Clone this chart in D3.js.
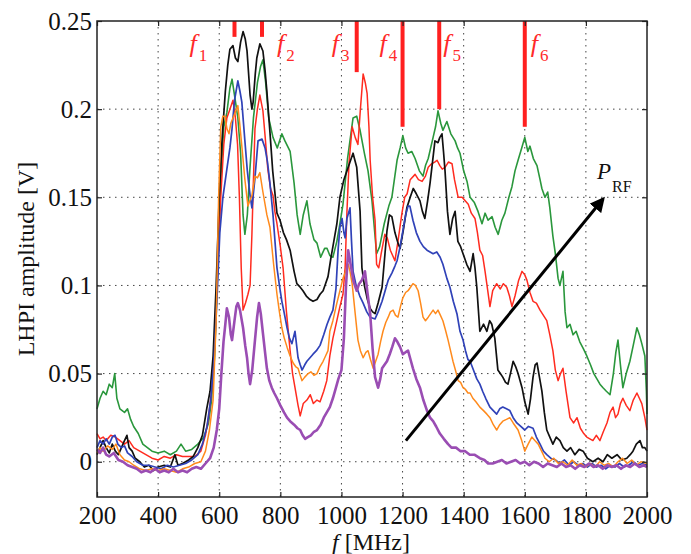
<!DOCTYPE html>
<html>
<head>
<meta charset="utf-8">
<script src="https://cdn.jsdelivr.net/npm/d3@7"></script>
<style>
  html, body { margin: 0; padding: 0; background: #fff; }
  svg { display: block; }
  text { font-family: "Liberation Serif", "DejaVu Serif", serif; }
</style>
</head>
<body>
<svg id="chart" width="691" height="554"></svg>
<script>
// ---------------- DATA ----------------
const xTicks = [200, 400, 600, 800, 1000, 1200, 1400, 1600, 1800, 2000];
const yTicks = [0, 0.05, 0.1, 0.15, 0.2, 0.25];
const yTickLabels = ["0", "0.05", "0.1", "0.15", "0.2", "0.25"];

const markerFreqs = [650, 740, 1050, 1200, 1320, 1600];
const markerEnds  = [0.241, 0.241, 0.221, 0.19, 0.2, 0.19];
const markerNames = ["1", "2", "3", "4", "5", "6"];

const arrowFrom = [1211, 0.012];
const arrowTo = [1856, 0.149];

const green = [[200,0.030],[210,0.036],[220,0.040],[230,0.038],[240,0.044],[250,0.042],[258,0.050],[265,0.036],[275,0.030],[290,0.028],[300,0.030],[310,0.024],[320,0.020],[335,0.016],[350,0.010],[365,0.008],[380,0.006],[400,0.005],[420,0.006],[440,0.004],[460,0.006],[475,0.010],[490,0.006],[510,0.007],[530,0.010],[550,0.014],[565,0.022],[575,0.035],[585,0.060],[595,0.110],[605,0.160],[615,0.190],[625,0.198],[635,0.212],[642,0.217],[650,0.208],[661,0.195],[670,0.175],[678,0.140],[684,0.129],[692,0.140],[700,0.165],[712,0.195],[725,0.215],[735,0.224],[743,0.228],[752,0.215],[762,0.195],[776,0.184],[790,0.178],[805,0.186],[815,0.182],[832,0.176],[845,0.158],[855,0.140],[865,0.129],[875,0.140],[887,0.148],[897,0.135],[910,0.126],[920,0.124],[932,0.116],[945,0.121],[953,0.121],[962,0.117],[972,0.116],[985,0.125],[995,0.135],[1005,0.146],[1020,0.172],[1038,0.195],[1050,0.196],[1061,0.188],[1075,0.175],[1087,0.165],[1100,0.148],[1115,0.118],[1125,0.122],[1140,0.135],[1155,0.145],[1165,0.150],[1182,0.171],[1192,0.178],[1201,0.185],[1210,0.178],[1218,0.175],[1230,0.176],[1241,0.172],[1255,0.165],[1267,0.162],[1275,0.168],[1284,0.172],[1300,0.184],[1308,0.190],[1316,0.199],[1325,0.192],[1332,0.188],[1345,0.193],[1358,0.186],[1372,0.182],[1380,0.178],[1388,0.175],[1400,0.165],[1411,0.159],[1421,0.150],[1435,0.147],[1447,0.142],[1460,0.135],[1470,0.141],[1480,0.137],[1493,0.139],[1503,0.133],[1513,0.129],[1525,0.137],[1535,0.141],[1548,0.150],[1558,0.156],[1568,0.165],[1578,0.171],[1590,0.178],[1600,0.184],[1610,0.176],[1617,0.179],[1628,0.172],[1640,0.168],[1650,0.160],[1656,0.155],[1666,0.150],[1675,0.153],[1682,0.144],[1692,0.128],[1700,0.118],[1709,0.104],[1715,0.100],[1725,0.108],[1732,0.085],[1738,0.076],[1748,0.078],[1758,0.072],[1768,0.074],[1780,0.068],[1792,0.064],[1803,0.060],[1815,0.055],[1826,0.050],[1836,0.047],[1846,0.044],[1856,0.042],[1867,0.040],[1879,0.038],[1890,0.050],[1898,0.062],[1905,0.069],[1913,0.055],[1921,0.042],[1932,0.050],[1944,0.057],[1955,0.066],[1967,0.076],[1975,0.072],[1983,0.067],[1993,0.060],[1998,0.040],[2000,0.027]];

const red = [[200,0.016],[210,0.013],[220,0.014],[230,0.012],[245,0.015],[260,0.014],[275,0.012],[290,0.010],[305,0.012],[320,0.008],[340,0.006],[360,0.004],[380,0.002],[400,0.001],[420,0.003],[440,0.002],[460,0.004],[480,0.003],[500,0.003],[520,0.003],[540,0.006],[555,0.015],[565,0.025],[575,0.040],[585,0.065],[595,0.110],[605,0.150],[615,0.180],[625,0.195],[635,0.200],[645,0.205],[653,0.195],[660,0.180],[666,0.150],[672,0.110],[678,0.086],[686,0.090],[694,0.095],[701,0.100],[707,0.129],[712,0.160],[717,0.189],[725,0.200],[733,0.208],[743,0.199],[750,0.185],[759,0.166],[768,0.155],[776,0.151],[782,0.142],[789,0.135],[800,0.122],[809,0.110],[820,0.085],[832,0.063],[840,0.050],[848,0.042],[858,0.032],[865,0.026],[875,0.033],[887,0.035],[898,0.038],[908,0.033],[920,0.035],[930,0.034],[942,0.040],[952,0.046],[962,0.060],[972,0.070],[985,0.080],[995,0.088],[1005,0.095],[1012,0.110],[1018,0.142],[1025,0.170],[1035,0.190],[1045,0.184],[1054,0.180],[1062,0.200],[1071,0.220],[1078,0.215],[1084,0.209],[1090,0.190],[1094,0.171],[1102,0.150],[1110,0.137],[1115,0.112],[1122,0.110],[1130,0.118],[1142,0.129],[1150,0.127],[1160,0.120],[1175,0.114],[1185,0.125],[1198,0.141],[1207,0.150],[1215,0.152],[1225,0.160],[1241,0.163],[1252,0.160],[1264,0.159],[1275,0.162],[1284,0.167],[1295,0.169],[1305,0.170],[1313,0.171],[1322,0.168],[1330,0.166],[1339,0.167],[1350,0.170],[1362,0.169],[1370,0.160],[1382,0.150],[1395,0.150],[1405,0.148],[1415,0.146],[1425,0.141],[1437,0.138],[1445,0.130],[1453,0.120],[1462,0.117],[1470,0.108],[1478,0.098],[1486,0.088],[1495,0.097],[1508,0.101],[1520,0.098],[1530,0.101],[1541,0.099],[1550,0.094],[1558,0.088],[1568,0.094],[1580,0.103],[1591,0.108],[1600,0.106],[1607,0.103],[1617,0.096],[1627,0.091],[1638,0.090],[1650,0.086],[1661,0.083],[1672,0.080],[1682,0.072],[1692,0.063],[1700,0.052],[1709,0.046],[1717,0.050],[1725,0.053],[1735,0.040],[1748,0.025],[1760,0.022],[1771,0.025],[1782,0.019],[1793,0.016],[1803,0.014],[1813,0.013],[1823,0.012],[1834,0.015],[1846,0.012],[1857,0.017],[1869,0.022],[1879,0.028],[1889,0.031],[1897,0.025],[1905,0.027],[1913,0.033],[1921,0.036],[1932,0.032],[1944,0.029],[1955,0.035],[1967,0.039],[1975,0.036],[1983,0.033],[1993,0.025],[2000,0.018]];

const black = [[200,0.004],[210,0.008],[220,0.012],[230,0.008],[240,0.005],[250,0.010],[260,0.006],[270,0.004],[280,0.008],[290,0.012],[298,0.015],[305,0.008],[315,0.006],[325,0.002],[340,0.000],[355,-0.003],[370,-0.002],[385,-0.005],[400,-0.003],[420,-0.002],[440,-0.003],[455,0.004],[465,-0.002],[480,-0.001],[500,0.001],[515,0.003],[530,0.008],[545,0.015],[559,0.030],[570,0.040],[580,0.060],[590,0.100],[600,0.150],[610,0.185],[620,0.210],[628,0.225],[635,0.234],[645,0.236],[653,0.229],[661,0.227],[670,0.238],[678,0.244],[685,0.240],[691,0.233],[701,0.208],[707,0.200],[711,0.204],[718,0.220],[723,0.229],[733,0.237],[743,0.233],[750,0.222],[756,0.210],[766,0.187],[775,0.165],[789,0.141],[799,0.137],[810,0.130],[820,0.126],[832,0.120],[845,0.108],[854,0.101],[865,0.099],[874,0.097],[885,0.094],[897,0.092],[907,0.091],[920,0.092],[930,0.095],[940,0.097],[948,0.101],[956,0.105],[965,0.115],[975,0.125],[985,0.135],[995,0.150],[1008,0.160],[1018,0.165],[1028,0.170],[1038,0.175],[1050,0.167],[1061,0.142],[1067,0.110],[1075,0.100],[1085,0.092],[1094,0.087],[1102,0.085],[1110,0.084],[1120,0.090],[1133,0.099],[1141,0.115],[1149,0.131],[1157,0.140],[1165,0.139],[1175,0.130],[1185,0.124],[1192,0.121],[1203,0.132],[1214,0.144],[1225,0.150],[1235,0.155],[1245,0.152],[1257,0.148],[1265,0.142],[1273,0.138],[1282,0.148],[1290,0.158],[1298,0.170],[1306,0.182],[1316,0.181],[1322,0.184],[1329,0.186],[1334,0.176],[1339,0.165],[1347,0.142],[1355,0.129],[1364,0.138],[1372,0.142],[1381,0.125],[1390,0.122],[1398,0.118],[1410,0.112],[1421,0.108],[1431,0.118],[1437,0.110],[1443,0.099],[1453,0.074],[1465,0.078],[1476,0.074],[1485,0.080],[1492,0.078],[1502,0.070],[1512,0.052],[1520,0.050],[1528,0.048],[1537,0.045],[1545,0.044],[1553,0.050],[1562,0.057],[1570,0.054],[1578,0.050],[1591,0.042],[1600,0.034],[1611,0.027],[1619,0.036],[1627,0.048],[1634,0.055],[1640,0.056],[1648,0.048],[1656,0.040],[1664,0.028],[1672,0.018],[1682,0.014],[1692,0.010],[1703,0.014],[1715,0.012],[1726,0.008],[1738,0.006],[1750,0.008],[1764,0.004],[1778,0.007],[1791,0.006],[1805,0.002],[1823,0.000],[1840,0.002],[1856,0.000],[1870,0.004],[1885,0.002],[1902,0.004],[1918,0.001],[1934,0.002],[1945,0.004],[1954,0.006],[1965,0.010],[1977,0.012],[1985,0.008],[1993,0.008],[2000,0.006]];

const blue = [[200,0.008],[210,0.012],[220,0.010],[230,0.013],[240,0.010],[250,0.014],[259,0.015],[268,0.010],[280,0.008],[290,0.009],[300,0.005],[315,0.003],[330,0.000],[350,-0.002],[370,-0.002],[390,-0.003],[410,-0.004],[430,-0.002],[450,-0.003],[470,-0.002],[490,-0.001],[510,0.001],[530,0.004],[545,0.010],[560,0.020],[572,0.035],[582,0.055],[592,0.090],[602,0.130],[612,0.150],[625,0.166],[635,0.178],[642,0.189],[650,0.205],[661,0.216],[668,0.210],[674,0.204],[684,0.182],[692,0.165],[701,0.151],[707,0.144],[717,0.161],[727,0.182],[740,0.183],[750,0.178],[758,0.170],[766,0.158],[776,0.140],[789,0.110],[797,0.100],[805,0.091],[812,0.085],[822,0.076],[830,0.070],[838,0.067],[848,0.074],[858,0.059],[865,0.055],[871,0.052],[880,0.055],[887,0.057],[897,0.059],[907,0.061],[918,0.063],[930,0.066],[942,0.072],[953,0.078],[962,0.082],[972,0.086],[982,0.098],[989,0.120],[995,0.133],[1002,0.138],[1008,0.130],[1012,0.127],[1018,0.138],[1028,0.144],[1033,0.125],[1038,0.108],[1048,0.100],[1060,0.094],[1071,0.090],[1083,0.085],[1094,0.082],[1110,0.081],[1120,0.085],[1133,0.091],[1143,0.097],[1153,0.103],[1165,0.107],[1175,0.111],[1182,0.114],[1192,0.122],[1201,0.131],[1210,0.140],[1218,0.145],[1224,0.145],[1234,0.137],[1245,0.130],[1257,0.125],[1268,0.122],[1280,0.120],[1290,0.119],[1300,0.118],[1312,0.119],[1323,0.116],[1332,0.112],[1345,0.104],[1355,0.099],[1366,0.091],[1378,0.084],[1388,0.074],[1398,0.069],[1406,0.063],[1414,0.058],[1421,0.057],[1432,0.052],[1443,0.047],[1453,0.044],[1462,0.040],[1472,0.036],[1486,0.031],[1497,0.029],[1508,0.027],[1518,0.030],[1528,0.031],[1540,0.030],[1551,0.029],[1562,0.025],[1574,0.022],[1587,0.020],[1600,0.018],[1612,0.020],[1627,0.019],[1638,0.014],[1650,0.010],[1661,0.006],[1672,0.004],[1685,0.002],[1700,0.001],[1715,-0.001],[1730,0.001],[1745,-0.002],[1760,0.000],[1775,-0.002],[1790,-0.001],[1805,-0.003],[1820,-0.001],[1835,-0.003],[1850,-0.002],[1865,-0.004],[1880,-0.002],[1895,-0.003],[1910,-0.001],[1925,-0.003],[1940,-0.002],[1955,0.000],[1970,-0.002],[1985,-0.001],[2000,-0.002]];

const orange = [[200,0.005],[210,0.008],[220,0.006],[235,0.009],[250,0.007],[262,0.010],[275,0.004],[290,0.001],[305,0.000],[320,-0.002],[340,-0.004],[360,-0.005],[380,-0.004],[400,-0.005],[420,-0.004],[440,-0.005],[460,-0.006],[480,-0.004],[500,-0.003],[520,-0.001],[540,0.000],[555,0.006],[568,0.018],[580,0.035],[590,0.080],[598,0.150],[605,0.190],[612,0.196],[619,0.196],[625,0.189],[632,0.186],[638,0.192],[645,0.195],[652,0.198],[661,0.202],[667,0.192],[674,0.179],[684,0.160],[694,0.145],[700,0.148],[707,0.151],[717,0.162],[725,0.161],[733,0.164],[743,0.153],[756,0.140],[766,0.133],[778,0.112],[789,0.095],[797,0.085],[805,0.076],[813,0.070],[822,0.065],[832,0.060],[842,0.056],[850,0.054],[858,0.053],[865,0.049],[871,0.046],[880,0.048],[891,0.050],[900,0.051],[910,0.049],[920,0.050],[930,0.054],[940,0.057],[948,0.060],[956,0.063],[962,0.074],[972,0.080],[985,0.090],[995,0.097],[1005,0.104],[1014,0.108],[1022,0.112],[1028,0.108],[1035,0.101],[1045,0.084],[1054,0.069],[1062,0.063],[1071,0.059],[1080,0.062],[1087,0.063],[1095,0.058],[1104,0.053],[1112,0.057],[1120,0.061],[1128,0.068],[1136,0.074],[1145,0.079],[1153,0.082],[1160,0.085],[1169,0.086],[1177,0.083],[1185,0.082],[1193,0.088],[1201,0.093],[1210,0.096],[1218,0.097],[1226,0.099],[1234,0.101],[1242,0.100],[1251,0.097],[1259,0.090],[1267,0.082],[1275,0.080],[1284,0.082],[1292,0.084],[1300,0.086],[1308,0.084],[1316,0.086],[1324,0.083],[1332,0.080],[1340,0.075],[1349,0.069],[1357,0.063],[1365,0.057],[1373,0.052],[1382,0.046],[1390,0.045],[1398,0.042],[1406,0.041],[1414,0.039],[1421,0.039],[1430,0.036],[1440,0.034],[1453,0.031],[1465,0.029],[1476,0.027],[1486,0.025],[1497,0.021],[1508,0.018],[1518,0.021],[1528,0.023],[1540,0.024],[1551,0.025],[1562,0.022],[1570,0.020],[1578,0.018],[1590,0.012],[1600,0.006],[1611,0.010],[1623,0.014],[1633,0.012],[1644,0.010],[1655,0.006],[1666,0.002],[1680,0.000],[1695,0.002],[1710,-0.001],[1725,0.000],[1740,-0.002],[1755,0.001],[1770,-0.002],[1785,-0.001],[1800,-0.003],[1815,-0.001],[1830,-0.003],[1845,0.000],[1860,-0.002],[1875,-0.001],[1890,-0.003],[1905,0.000],[1920,0.002],[1935,-0.001],[1950,0.001],[1965,-0.002],[1980,0.000],[2000,-0.001]];

const purple = [[200,0.007],[210,0.005],[220,0.008],[230,0.004],[240,0.003],[255,0.005],[270,0.001],[285,0.000],[300,-0.002],[315,-0.003],[330,-0.004],[345,-0.006],[360,-0.005],[375,-0.006],[390,-0.004],[405,-0.006],[420,-0.005],[435,-0.006],[450,-0.004],[465,-0.006],[480,-0.005],[495,-0.006],[510,-0.004],[525,-0.003],[540,-0.004],[555,-0.001],[570,0.002],[582,0.008],[592,0.018],[600,0.030],[607,0.050],[614,0.068],[620,0.078],[625,0.087],[632,0.082],[638,0.072],[642,0.069],[650,0.080],[656,0.088],[661,0.090],[668,0.086],[678,0.076],[685,0.066],[691,0.059],[696,0.050],[701,0.044],[708,0.052],[717,0.069],[724,0.082],[730,0.090],[736,0.084],[743,0.073],[750,0.062],[756,0.053],[764,0.046],[772,0.042],[780,0.039],[789,0.036],[800,0.032],[812,0.028],[822,0.025],[832,0.023],[845,0.021],[856,0.019],[865,0.018],[873,0.015],[881,0.013],[890,0.014],[900,0.015],[910,0.017],[920,0.018],[932,0.021],[942,0.025],[952,0.028],[962,0.031],[972,0.036],[982,0.042],[990,0.047],[1000,0.052],[1008,0.070],[1015,0.100],[1022,0.120],[1030,0.112],[1040,0.102],[1050,0.097],[1058,0.101],[1067,0.103],[1077,0.108],[1085,0.096],[1094,0.084],[1102,0.064],[1110,0.048],[1120,0.042],[1127,0.047],[1133,0.053],[1141,0.055],[1149,0.057],[1158,0.061],[1166,0.065],[1175,0.070],[1183,0.068],[1192,0.065],[1201,0.061],[1209,0.062],[1218,0.063],[1226,0.058],[1234,0.053],[1245,0.047],[1257,0.042],[1268,0.035],[1280,0.029],[1290,0.025],[1300,0.023],[1310,0.020],[1322,0.016],[1335,0.013],[1349,0.010],[1360,0.008],[1375,0.008],[1390,0.006],[1405,0.006],[1420,0.004],[1435,0.004],[1453,0.002],[1468,0.001],[1480,-0.001],[1495,-0.001],[1510,0.000],[1525,0.001],[1540,-0.001],[1555,0.000],[1570,0.001],[1585,-0.001],[1600,0.000],[1615,-0.002],[1630,0.000],[1645,-0.001],[1660,-0.003],[1675,-0.001],[1690,-0.002],[1705,-0.003],[1720,-0.001],[1735,-0.003],[1750,-0.002],[1765,-0.004],[1780,-0.002],[1795,-0.003],[1810,-0.001],[1825,-0.003],[1840,-0.002],[1855,-0.004],[1870,-0.002],[1885,-0.003],[1900,-0.002],[1915,-0.004],[1930,-0.002],[1945,-0.003],[1960,-0.001],[1975,-0.003],[1990,-0.002],[2000,-0.003]];

// ---------------- DRAW ----------------
const series = [
  { data: green,  color: "#2a973c", width: 1.6 },
  { data: red,    color: "#ff2b1f", width: 1.5 },
  { data: black,  color: "#111111", width: 1.7 },
  { data: blue,   color: "#3042b8", width: 1.7 },
  { data: orange, color: "#ff8a1c", width: 1.5 },
  { data: purple, color: "#9a4db3", width: 2.6 }
];

const svg = d3.select("#chart");
const L = 97, R = 647, T = 21, B = 497;
const x = d3.scaleLinear().domain([200, 2000]).range([L, R]);
const y = d3.scaleLinear().domain([-0.02, 0.25]).range([B, T]);

svg.append("rect").attr("width", 691).attr("height", 554).attr("fill", "#fff");

// grid
const grid = svg.append("g").attr("stroke", "#444").attr("stroke-width", 1)
  .attr("stroke-dasharray", "1.5,4.5");
grid.selectAll(".gx").data(xTicks.slice(1, -1)).join("line")
  .attr("x1", d => x(d)).attr("x2", d => x(d)).attr("y1", T).attr("y2", B);
grid.selectAll(".gy").data(yTicks.slice(0, -1)).join("line")
  .attr("x1", L).attr("x2", R).attr("y1", d => y(d)).attr("y2", d => y(d));

// curves
const line = d3.line().x(d => x(d[0])).y(d => y(d[1]));
const plot = svg.append("g");
series.forEach(s => {
  plot.append("path").attr("d", line(s.data)).attr("fill", "none")
    .attr("stroke", s.color).attr("stroke-width", s.width)
    .attr("stroke-linejoin", "round");
});

// frequency markers
const mk = svg.append("g");
mk.selectAll("line").data(markerFreqs).join("line")
  .attr("x1", d => x(d)).attr("x2", d => x(d))
  .attr("y1", y(0.25)).attr("y2", (d, i) => y(markerEnds[i]))
  .attr("stroke", "#ff2020").attr("stroke-width", 4);
const labelDx = [-45, 15, -25, -23, 4, 6];
markerFreqs.forEach((f, i) => {
  const t = mk.append("text").attr("x", x(f) + labelDx[i]).attr("y", 52)
    .attr("fill", "#ff2a2a").attr("font-size", 26);
  t.append("tspan").attr("font-style", "italic").text("f");
  t.append("tspan").attr("dx", 2).attr("dy", 9).attr("font-size", 17).text(markerNames[i]);
});

// axes
const fs = 25;
const ax = svg.append("g").attr("transform", `translate(0,${B})`)
  .call(d3.axisBottom(x).tickValues(xTicks).tickSize(-5).tickPadding(9).tickFormat(d3.format("d")));
const axT = svg.append("g").attr("transform", `translate(0,${T})`)
  .call(d3.axisTop(x).tickValues(xTicks).tickSize(-5).tickFormat(""));
const ay = svg.append("g").attr("transform", `translate(${L},0)`)
  .call(d3.axisLeft(y).tickValues(yTicks).tickSize(-5).tickPadding(5).tickFormat((d, i) => yTickLabels[i]));
const ayR = svg.append("g").attr("transform", `translate(${R},0)`)
  .call(d3.axisRight(y).tickValues(yTicks).tickSize(-5).tickFormat(""));
[ax, axT, ay, ayR].forEach(g => {
  g.select(".domain").remove();
  g.selectAll(".tick line").attr("stroke", "#222").attr("stroke-width", 1.2);
  g.selectAll("text").attr("font-size", fs).attr("fill", "#111")
    .attr("font-family", "Liberation Serif");
});

// frame
svg.append("rect").attr("x", L).attr("y", T).attr("width", R - L).attr("height", B - T)
  .attr("fill", "none").attr("stroke", "#222").attr("stroke-width", 1.5);

// axis labels
svg.append("text").attr("transform", "translate(34,259) rotate(-90)")
  .attr("text-anchor", "middle").attr("font-size", 24).attr("fill", "#111")
  .text("LHPI amplitude [V]");
const xl = svg.append("text").attr("x", 371).attr("y", 550)
  .attr("text-anchor", "middle").attr("font-size", 24).attr("fill", "#111");
xl.append("tspan").attr("font-style", "italic").text("f");
xl.append("tspan").text(" [MHz]");

// P_RF arrow
const defs = svg.append("defs");
defs.append("marker").attr("id", "ah").attr("viewBox", "0 0 10 10")
  .attr("refX", 8).attr("refY", 5).attr("markerWidth", 5).attr("markerHeight", 5)
  .attr("markerUnits", "strokeWidth").attr("orient", "auto")
  .append("path").attr("d", "M0,0 L10,5 L0,10 Z").attr("fill", "#000");
svg.append("line")
  .attr("x1", x(arrowFrom[0])).attr("y1", y(arrowFrom[1]))
  .attr("x2", x(arrowTo[0])).attr("y2", y(arrowTo[1]))
  .attr("stroke", "#000").attr("stroke-width", 3).attr("marker-end", "url(#ah)");
const pt = svg.append("text").attr("x", x(arrowTo[0]) - 6).attr("y", y(arrowTo[1]) - 20)
  .attr("font-size", 23).attr("fill", "#111");
pt.append("tspan").attr("font-style", "italic").text("P");
pt.append("tspan").attr("dx", 1).attr("dy", 13).attr("font-size", 16).text("RF");
</script>
</body>
</html>
